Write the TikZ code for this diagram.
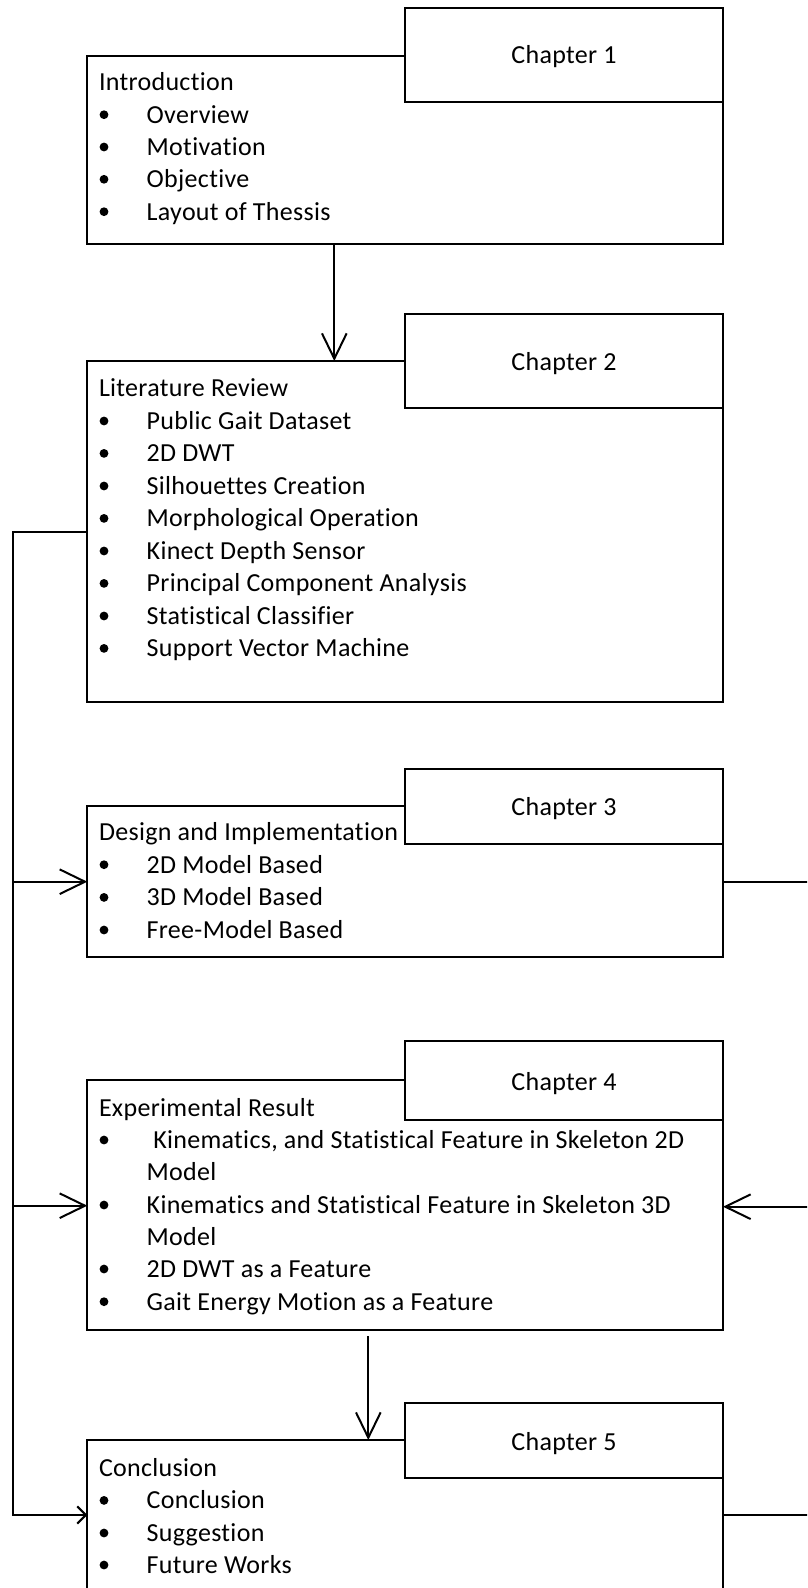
\documentclass[tikz,border=0pt]{standalone}
\usepackage{fontspec}
\setmainfont{Carlito}[Ligatures=NoCommon, LetterSpace=1.2]
\usetikzlibrary{fit,arrows.meta}
\tikzset{
  mainbox/.style={draw, line width=1.5pt, inner sep=0pt, outer sep=0pt},
  chapbox/.style={draw, fill=white, line width=1.5pt, inner sep=0pt, outer sep=0pt},
  txt/.style={inner sep=0pt, outer sep=0pt, anchor=base west, font=\fontsize{19.5pt}{24pt}\selectfont},
  chaptxt/.style={inner sep=0pt, outer sep=0pt, anchor=base, font=\fontsize{19.5pt}{24pt}\selectfont},
  conn/.style={line width=1.5pt},
  bighead/.style={-{Straight Barb[length=19pt,width=18.5pt,line width=1.5pt]}},
  smallhead/.style={-{Straight Barb[length=6.5pt,width=13pt,line width=1.5pt]}},
  dot/.style={fill=black}
}
\newcommand\bulletitem[3]{%
  \fill[dot] (104,{#1-8.3}) circle[radius=3.3pt];
  \node[txt] (#2) at (146.7,#1) {#3};
}
\begin{document}
\begin{tikzpicture}[x=0.75pt,y=-0.75pt]
\useasboundingbox (0,0) rectangle (807,1588);
\clip (0,0) rectangle (807,1588);

% main chapter boxes
\node[mainbox, fit={(87.3,55.7) (723,243.7)}] (intro) {};
\node[mainbox, fit={(87.3,361) (723,702)}] (lit) {};
\node[mainbox, fit={(87.3,806.3) (723,956.7)}] (des) {};
\node[mainbox, fit={(87.3,1080) (723,1330)}] (exp) {};
\node[mainbox, fit={(87.3,1440) (723,1610)}] (conc) {};

% chapter tags
\node[chapbox, fit={(405,8.3) (723,102.3)}] (ch1) {};
\node[chapbox, fit={(405,314.3) (723,408.3)}] (ch2) {};
\node[chapbox, fit={(405,769) (723,843.7)}] (ch3) {};
\node[chapbox, fit={(405,1041) (723,1120)}] (ch4) {};
\node[chapbox, fit={(405,1402.7) (723,1477.7)}] (ch5) {};
\node[chaptxt] (ch1t) at (564,63.3) {Chapter 1};
\node[chaptxt] (ch2t) at (564,370) {Chapter 2};
\node[chaptxt] (ch3t) at (564,815) {Chapter 3};
\node[chaptxt] (ch4t) at (564,1090) {Chapter 4};
\node[chaptxt] (ch5t) at (564,1450) {Chapter 5};

% Chapter 1 contents
\node[txt] (introT) at (99,90) {Introduction};
\bulletitem{123}{i1}{Overview}
\bulletitem{155.3}{i2}{Motivation}
\bulletitem{187.6}{i3}{Objective}
\bulletitem{220}{i4}{Layout of Thessis}

% Chapter 2 contents
\node[txt] (litT) at (99,396.7) {Literature Review};
\bulletitem{429.3}{l1}{Public Gait Dataset}
\bulletitem{461.7}{l2}{2D DWT}
\bulletitem{494.3}{l3}{Silhouettes Creation}
\bulletitem{526.7}{l4}{Morphological Operation}
\bulletitem{559.3}{l5}{Kinect Depth Sensor}
\bulletitem{591.7}{l6}{Principal Component Analysis}
\bulletitem{624.3}{l7}{Statistical Classifier}
\bulletitem{656.7}{l8}{Support Vector Machine}

% Chapter 3 contents
\node[txt] (desT) at (99,840) {Design and Implementation};
\bulletitem{873}{d1}{2D Model Based}
\bulletitem{905.7}{d2}{3D Model Based}
\bulletitem{938.3}{d3}{Free-Model Based}

% Chapter 4 contents
\node[txt] (expT) at (99,1116) {Experimental Result};
\fill[dot] (104,1140) circle[radius=3.3pt];
\node[txt] (e1) at (153.3,1148.3) {Kinematics, and Statistical Feature in Skeleton 2D};
\node[txt] (e1b) at (146.7,1180.7) {Model};
\bulletitem{1213.3}{e2}{Kinematics and Statistical Feature in Skeleton 3D}
\node[txt] (e2b) at (146.7,1245.5) {Model};
\bulletitem{1277.3}{e3}{2D DWT as a Feature}
\bulletitem{1310}{e4}{Gait Energy Motion as a Feature}

% Chapter 5 contents
\node[txt] (concT) at (99,1476.7) {Conclusion};
\bulletitem{1508.7}{c1}{Conclusion}
\bulletitem{1541.3}{c2}{Suggestion}
\bulletitem{1573.3}{c3}{Future Works}

% routing points
\coordinate (a1) at (334.3,0);
\coordinate (a2) at (368.3,1336);
\coordinate (busTop) at (13.3,532.3);
\coordinate (busDes) at (13.3,881.7);
\coordinate (busExp) at (13.3,1205.7);
\coordinate (busBot) at (13.3,1515);
\coordinate (rDes) at (815,881.7);
\coordinate (rExp) at (815,1206.7);
\coordinate (rConc) at (815,1515);

% connectors
\draw[conn, bighead] (intro.south -| a1) -- (lit.north -| a1);
\draw[conn, bighead] (a2) -- (conc.north -| a2);
\draw[conn, smallhead] (lit.west |- busTop) -- (busTop) -- (busBot) -- (conc.west |- busBot);
\draw[conn, bighead] (busDes) -- (des.west |- busDes);
\draw[conn, bighead] (busExp) -- (exp.west |- busExp);
\draw[conn] (des.east |- rDes) -- (rDes);
\draw[conn, bighead] (rExp) -- (exp.east |- rExp);
\draw[conn] (conc.east |- rConc) -- (rConc);
\end{tikzpicture}
\end{document}
